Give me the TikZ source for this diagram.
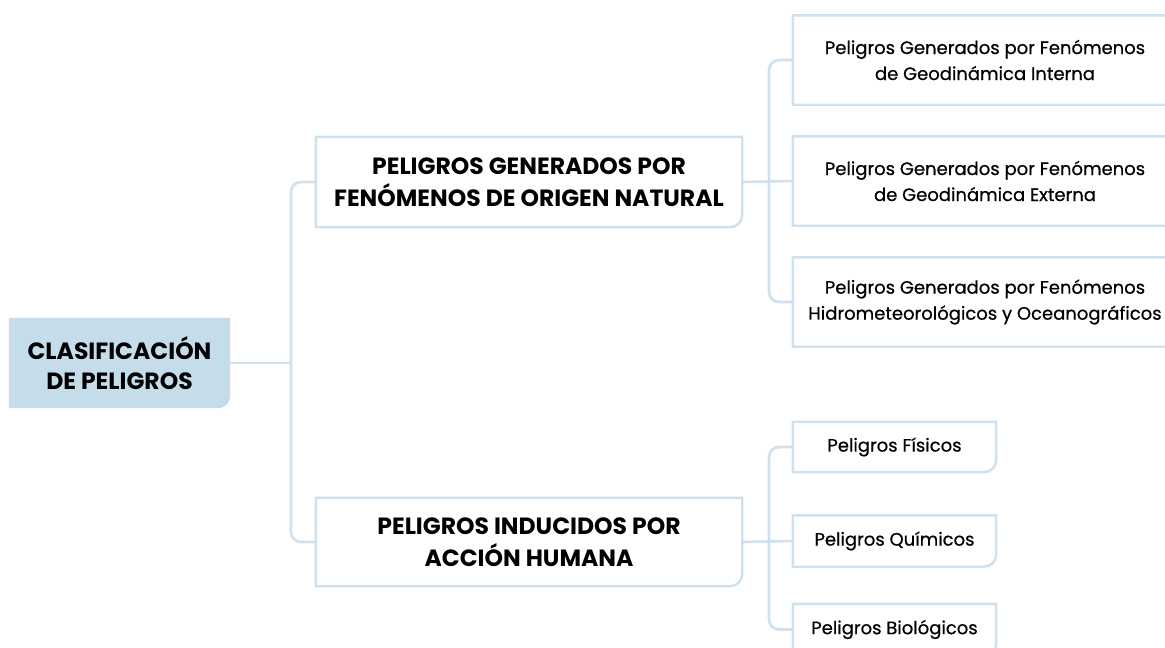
\documentclass[tikz,border=0pt]{standalone}
\usepackage{fontspec}
\setmainfont{Poppins}
\newfontfamily\medfont{Poppins}[FakeBold=0.6]
\usetikzlibrary{calc,backgrounds}
\definecolor{lineblue}{RGB}{207,225,238}
\definecolor{rootfill}{RGB}{197,221,235}
\tikzset{
  conn/.style={draw=lineblue, line width=2.6pt, rounded corners=10pt},
  boxtext/.style={align=center, inner sep=0pt, text=black},
  roottext/.style={boxtext, font=\bfseries\fontsize{23.5}{30}\selectfont},
  midtext/.style={boxtext, font=\bfseries\fontsize{23.5}{32}\selectfont},
  leaftext/.style={boxtext, font=\medfont\fontsize{18}{26}\selectfont},
  border/.style={draw=lineblue, line width=2.4pt},
  rootborder/.style={fill=rootfill, draw=none},
}
\newcommand{\cbox}[2]{%
  \path[#2] (#1.north west) -- (#1.north east) -- ($(#1.south east)+(0,-12)$)
    .. controls ($(#1.south east)+(0,-5.4)$) and ($(#1.south east)+(-5.4,0)$) .. ($(#1.south east)+(-12,0)$)
    -- (#1.south west) -- cycle;}
\begin{document}
\begin{tikzpicture}[x=1pt,y=-1pt]
\useasboundingbox (0,0) rectangle (1165,648);
\clip (0,0) rectangle (1165,648);
% nodes
\node[roottext, minimum width=221pt, minimum height=90pt] (root) at (119.5,363) {CLASIFICACIÓN\\DE PELIGROS};
\node[midtext, minimum width=426pt, minimum height=90pt] (mid1) at (529,182) {PELIGROS GENERADOS POR\\FENÓMENOS DE ORIGEN NATURAL};
\node[midtext, minimum width=426pt, minimum height=88pt] (mid2) at (529,542) {PELIGROS INDUCIDOS POR\\ACCIÓN HUMANA};
\node[leaftext, minimum width=384pt, minimum height=89pt] (leaf1) at (985,60) {Peligros Generados por Fenómenos\\de Geodinámica Interna};
\node[leaftext, minimum width=384pt, minimum height=89pt] (leaf2) at (985,181) {Peligros Generados por Fenómenos\\de Geodinámica Externa};
\node[leaftext, minimum width=384pt, minimum height=89pt] (leaf3) at (985,302) {Peligros Generados por Fenómenos\\Hidrometeorológicos y Oceanográficos};
\node[leaftext, minimum width=203pt, minimum height=50pt] (leafF) at (894.5,447) {Peligros Físicos};
\node[leaftext, minimum width=203pt, minimum height=51pt] (leafQ) at (894.5,541) {Peligros Químicos};
\node[leaftext, minimum width=203pt, minimum height=51pt] (leafB) at (894.5,629.5) {Peligros Biológicos};
\begin{pgfonlayer}{background}
\fill[white] (0,0) rectangle (1165,648);
\cbox{root}{rootborder}
\end{pgfonlayer}
\cbox{mid1}{border}
\cbox{mid2}{border}
\cbox{leaf1}{border}
\cbox{leaf2}{border}
\cbox{leaf3}{border}
\cbox{leafF}{border}
\cbox{leafQ}{border}
\cbox{leafB}{border}
% connectors
\coordinate (t1) at (291,363);
\coordinate (t2) at (769,182);
\coordinate (t3) at (769,542);
\draw[conn] (root.east) -- (t1);
\draw[conn] (mid1.west) -| (t1) |- (mid2.west);
\draw[conn] (mid1.east) -- (leaf2.west);
\draw[conn] (leaf1.west) -| (t2) |- (leaf3.west);
\draw[conn] (mid2.east) -- (leafQ.west);
\draw[conn] (leafF.west) -| (t3) |- (leafB.west);
\end{tikzpicture}
\end{document}
